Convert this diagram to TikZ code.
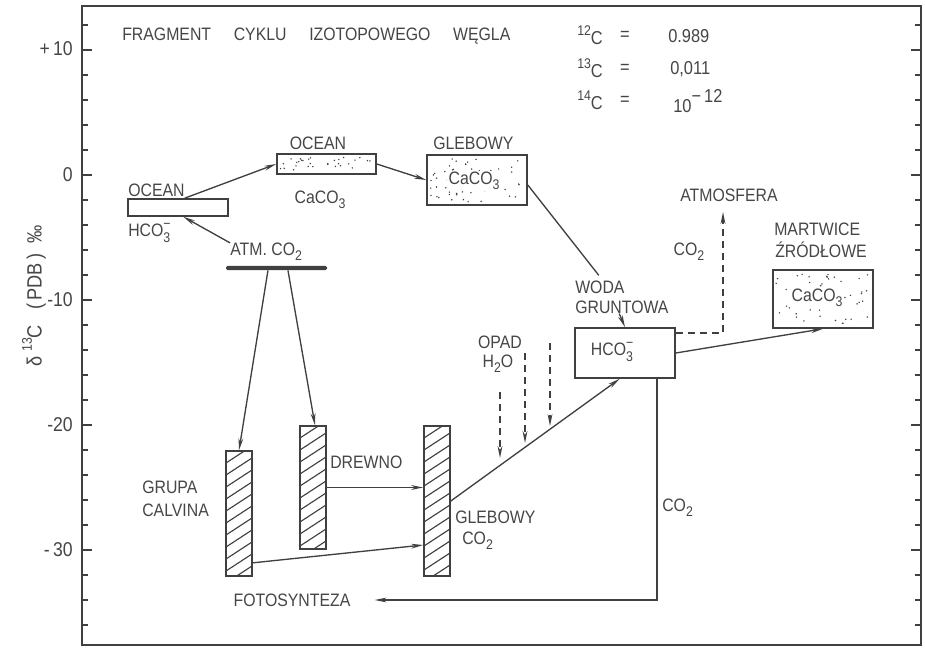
\documentclass[tikz,border=0pt]{standalone}
\usepackage{fontspec}
\setmainfont[FakeStretch=0.88]{Liberation Sans}
\usetikzlibrary{arrows.meta,calc}
\definecolor{ink}{HTML}{404040}
\definecolor{txt}{HTML}{464646}
\newcommand\labsz{\fontsize{13.5}{15}\selectfont}
\newcommand\smallsz{\fontsize{10.5}{11}\selectfont}
\newcommand\subd[1]{\raisebox{-0.55ex}{\smallsz #1}}
\newcommand\supd[1]{\raisebox{0.9ex}{\smallsz #1}}
\newcommand\hcoion{HCO\makebox[0pt][l]{\raisebox{0.85ex}{\smallsz −}}\raisebox{-0.6ex}{\smallsz 3}}
\newcommand\mydots[6]{%
  \pgfmathsetseed{#6}%
  \foreach \k in {1,...,#5}{%
    \fill[ink] ({#1+3+rnd*(#3-#1-6)},{#2+3+rnd*(#4-#2-6)}) circle (0.6pt);}}
\newcommand\hatchbar[4]{%
  \begin{scope}
    \clip (#1,#2) rectangle (#3,#4);
    \foreach \t in {0,12,...,192}{%
      \draw[ink,line width=0.85pt] (#1,#2+\t) -- (#3,#2+\t-17);}
  \end{scope}}
\begin{document}
\begin{tikzpicture}[x=0.75pt,y=-0.75pt,
  every node/.style={text=txt,inner sep=0pt,font=\labsz},
  ln/.style={draw=ink,line width=1pt},
  arr/.style={ln,-{Stealth[length=9pt,width=3.6pt]}},
  darr/.style={arr,dash pattern=on 5.5pt off 3.5pt},
  boxn/.style={draw=ink,line width=1.2pt,fill=white},
  barn/.style={draw=ink,line width=1.2pt,fill=white,minimum width=19.5pt}]
\fill[white] (0,0) rectangle (925,649);
\useasboundingbox (0,0) rectangle (925,649);

% frame and ticks
\draw[ink,line width=1.3pt] (82,6) rectangle (921,645);
\foreach \yy in {25,75,100,125,150,200,225,250,275,325,350,375,400,450,475,500,525,575,600,625}{
  \draw[ink,line width=0.9pt] (82,\yy) -- (88,\yy);
  \draw[ink,line width=0.9pt] (921,\yy) -- (915,\yy);}
\foreach \yy in {50,175,300,425,550}{
  \draw[ink,line width=0.9pt] (82,\yy) -- (92,\yy);
  \draw[ink,line width=0.9pt] (921,\yy) -- (911,\yy);}
\node[anchor=east,font=\fontsize{15}{16}\selectfont] (t10) at (73,49) {+\,10};
\node[anchor=east,font=\fontsize{15}{16}\selectfont] (t0) at (73,175) {0};
\node[anchor=east,font=\fontsize{15}{16}\selectfont] (tm10) at (73,300) {-10};
\node[anchor=east,font=\fontsize{15}{16}\selectfont] (tm20) at (73,425) {-20};
\node[anchor=east,font=\fontsize{15}{16}\selectfont] (tm30) at (73,550) {-\,30};
\node[rotate=90,font=\fontsize{15.5}{16}\selectfont] (yaxis) at (34,296)
  {δ \supd{13}C\ \ \ (\,PDB\,)\ \ ‰};

% title and isotopes
\node[anchor=west] (title) at (122,36)
  {FRAGMENT\hspace{17pt}CYKLU\hspace{17pt}IZOTOPOWEGO\hspace{17pt}WĘGLA};
\node[anchor=west,font=\fontsize{14}{15}\selectfont] (i12) at (577,35) {\supd{12}C};
\node[font=\fontsize{14}{15}\selectfont] (e12) at (625,36) {=};
\node[anchor=west,font=\fontsize{14}{15}\selectfont] (v12) at (668,36) {0.989};
\node[anchor=west,font=\fontsize{14}{15}\selectfont] (i13) at (577,68) {\supd{13}C};
\node[font=\fontsize{14}{15}\selectfont] (e13) at (625,69) {=};
\node[anchor=west,font=\fontsize{14}{15}\selectfont] (v13) at (670,69) {0,011};
\node[anchor=west,font=\fontsize{14}{15}\selectfont] (i14) at (577,100) {\supd{14}C};
\node[font=\fontsize{14}{15}\selectfont] (e14) at (625,101) {=};
\node[anchor=west,font=\fontsize{14}{15}\selectfont] (v14) at (673,101) {10\raisebox{1ex}{−\,12}};

% top boxes
\node[boxn,minimum width=75pt,minimum height=12.75pt] (oceanL) at (178,207.5) {};
\node[boxn,minimum width=74.25pt,minimum height=15pt] (oceanM) at (326.5,164) {};
\node[boxn,minimum width=75pt,minimum height=37.5pt] (glebC) at (477,180) {};
\node[boxn,minimum width=75pt,minimum height=37.5pt] (hco) at (625,353) {};
\node[boxn,minimum width=75pt,minimum height=43.5pt] (mart) at (823,299) {};
\mydots{277}{154}{376}{174}{30}{11}
\mydots{427}{155}{527}{205}{55}{23}
\mydots{773}{270}{873}{328}{60}{37}

\node[anchor=west] (lOceanL) at (128,190) {OCEAN};
\node[anchor=west] (lHcoL) at (128,233) {\hcoion};
\node (lOceanM) at (318,143) {OCEAN};
\node (lCacoM) at (320,200) {CaCO\subd{3}};
\node[anchor=west] (lGlebC) at (433,143) {GLEBOWY};
\node[fill=white,inner sep=1pt] (lCacoG) at (474,181) {CaCO\subd{3}};
\node[anchor=west] (lAtm) at (230,252) {ATM.\ CO\subd{2}};
\node[fill=ink,minimum width=75.75pt,minimum height=3.2pt,rounded corners=1.2pt] (atm) at (276.5,268) {};

% hatched bars
\node[barn,minimum height=93.75pt] (calv) at (239,513.5) {};
\node[barn,minimum height=92.25pt] (drew) at (313,487.5) {};
\node[barn,minimum height=112.5pt] (glebCO) at (437,501) {};
\hatchbar{226}{451}{252}{576}
\hatchbar{300}{426}{326}{549}
\hatchbar{424}{426}{450}{576}

\node[anchor=west] (lGrupa) at (142,487) {GRUPA};
\node[anchor=west] (lCalvina) at (142,510) {CALVINA};
\node[anchor=west] (lDrewno) at (330,462) {DREWNO};
\node[anchor=west] (lGlebCO) at (455,517) {GLEBOWY};
\node[anchor=west] (lGlebCO2) at (462,541) {CO\subd{2}};
\node (lOpad) at (500,342) {OPAD};
\node (lH2O) at (498,364) {H\subd{2}O};
\node[anchor=west] (lWoda) at (575,287) {WODA};
\node[anchor=west] (lGrunt) at (575,307) {GRUNTOWA};
\node (lHco) at (612,352) {\hcoion};
\node (lAtmos) at (729,195) {ATMOSFERA};
\node (lCo2d) at (689,252) {CO\subd{2}};
\node[anchor=west] (lMart) at (774,229) {MARTWICE};
\node[anchor=west] (lZrod) at (775,250) {ŹRÓDŁOWE};
\node[fill=white,inner sep=1pt] (lCacoMart) at (817,298) {CaCO\subd{3}};
\node[anchor=west] (lCo2v) at (662,508) {CO\subd{2}};
\node (lFoto) at (292,600) {FOTOSYNTEZA};

% connectors
\draw[arr] ([xshift=5pt]oceanL.north) -- (oceanM.west);
\draw[arr] (oceanM.east) -- (glebC.west);
\draw[arr] (lAtm.north west) -- ([xshift=4pt]oceanL.south);
\draw[arr] ([xshift=-6.4pt]atm.south) -- (calv.north);
\draw[arr] ([xshift=8.6pt]atm.south) -- ([xshift=1.5pt]drew.north);
\draw[arr] (drew.east) -- (glebCO.west |- drew.east);
\draw[arr] ([yshift=-37pt]calv.east) -- ([yshift=-33pt]glebCO.west);
\draw[arr] (glebCO.east) -- ([xshift=-4pt]hco.south);
\draw[ln] ([yshift=-3.75pt]glebC.east) -- ($(lWoda.north east)+(-26,-5)$);
\draw[arr] ([xshift=-2pt]lGrunt.south) -- (hco.north);
\coordinate (atmTip) at (723,212);
\draw[darr] ([yshift=15pt]hco.east) -| (atmTip);
\draw[arr] (hco.east) -- (mart.south);
\draw[arr] ([xshift=24pt]hco.south) |- ([xshift=18pt]lFoto.east);
\coordinate (r1a) at (500,392); \coordinate (r1b) at (500,458);
\coordinate (r2a) at (525,353); \coordinate (r2b) at (525,443);
\coordinate (r3a) at (550,343); \coordinate (r3b) at (550,426);
\draw[darr] (r1a) -- (r1b);
\draw[darr] (r2a) -- (r2b);
\draw[darr] (r3a) -- (r3b);
\end{tikzpicture}
\end{document}
